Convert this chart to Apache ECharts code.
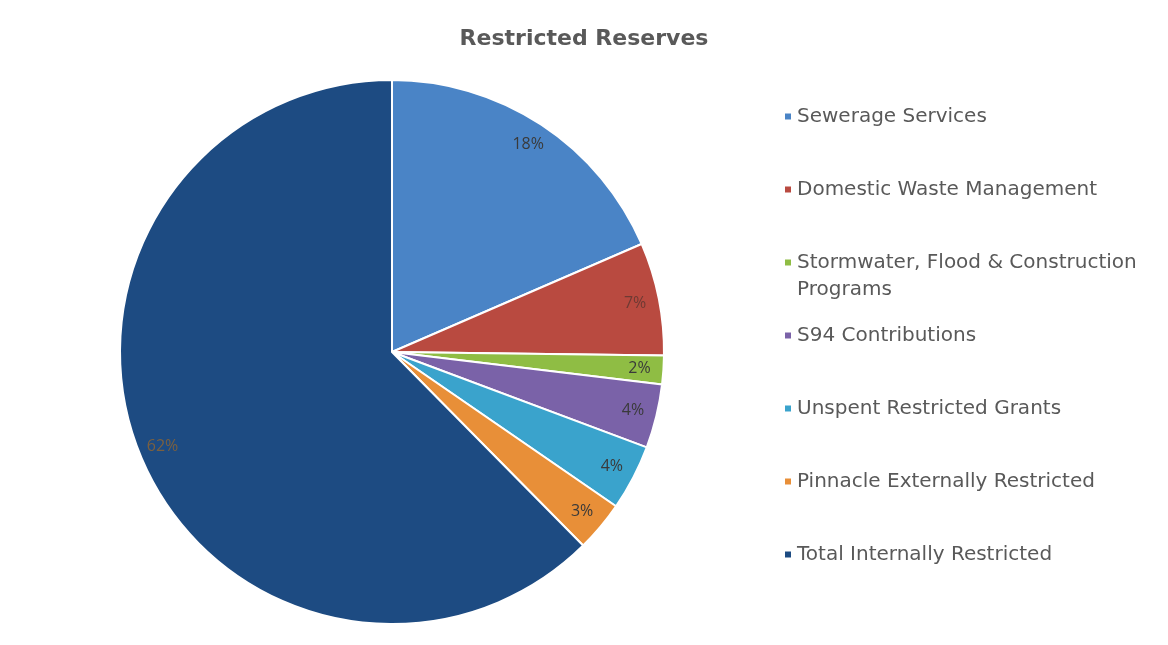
<!DOCTYPE html>
<html>
<head>
<meta charset="utf-8">
<script src="https://cdn.jsdelivr.net/npm/echarts@6/dist/echarts.min.js"></script>
<style>
html,body{margin:0;padding:0;background:#fff;}
#chart{width:1168px;height:645px;}
</style>
</head>
<body>
<div id="chart"></div>
<script>
const categories = [
  'Sewerage Services',
  'Domestic Waste Management',
  'Stormwater, Flood & Construction Programs',
  'S94 Contributions',
  'Unspent Restricted Grants',
  'Pinnacle Externally Restricted',
  'Total Internally Restricted'
];
const values = [18.5, 6.7, 1.7, 3.8, 3.9, 3.0, 62.4];
const colors = ['#4a84c6', '#b94a40', '#8fbd44', '#7a62a8', '#3aa3cc', '#e88f38', '#1d4b82'];
const labelColors = ['#3a3a3a', '#6e3a33', '#3a3a3a', '#3a3a3a', '#3a3a3a', '#3a3a3a', '#7a6040'];

const chart = echarts.init(document.getElementById('chart'));
const center = [392, 352];
const legendText = {fontFamily: 'DejaVu Sans', fontSize: 20, color: '#595959', lineHeight: 27};
const legendCommon = {
  orient: 'vertical', left: 778, itemWidth: 8, itemHeight: 8, itemGap: 46,
  icon: 'rect', textStyle: legendText, selectedMode: false
};
chart.setOption({
  animation: false,
  title: {
    text: 'Restricted Reserves', left: 'center', top: 23,
    textStyle: {fontFamily: 'DejaVu Sans', fontSize: 22, fontWeight: 'bold', color: '#595959'}
  },
  legend: [
    Object.assign({}, legendCommon, {top: 98, data: categories.slice(0, 2)}),
    Object.assign({}, legendCommon, {top: 217, data: [categories[2]],
      formatter: function () { return '\nStormwater, Flood & Construction\nPrograms'; }}),
    Object.assign({}, legendCommon, {top: 317, data: categories.slice(3)})
  ],
  series: [
    {
      type: 'pie', center: center, radius: 272, startAngle: 90, clockwise: true,
      silent: true,
      label: {show: false}, labelLine: {show: false},
      itemStyle: {borderColor: '#ffffff', borderWidth: 2},
      data: categories.map((c, i) => ({name: c, value: values[i], itemStyle: {color: colors[i]}}))
    },
    {
      type: 'pie', center: center, radius: [218, 272], startAngle: 90, clockwise: true,
      silent: true, percentPrecision: 0,
      itemStyle: {color: 'rgba(0,0,0,0)', borderWidth: 0},
      label: {show: true, position: 'inside', formatter: '{d}%',
        fontFamily: 'Open Sans', fontSize: 16},
      labelLine: {show: false},
      data: categories.map((c, i) => ({name: c, value: values[i],
        label: {color: labelColors[i]}}))
    }
  ]
});
</script>
</body>
</html>
